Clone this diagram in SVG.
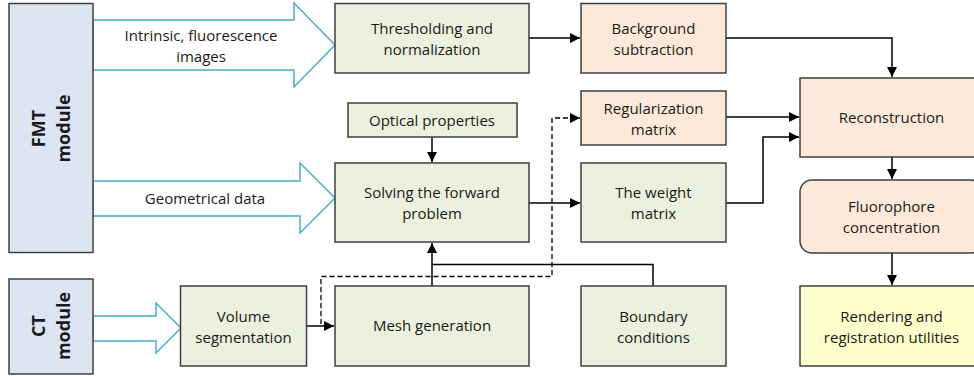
<svg xmlns="http://www.w3.org/2000/svg" width="974" height="376" viewBox="0 0 974 376">
<defs>
<style>
.g{fill:#EBF1DE;stroke:#3f3f3f;stroke-width:1.5}
.o{fill:#FDE9D9;stroke:#3f3f3f;stroke-width:1.5}
.b{fill:#DCE6F2;stroke:#3f3f3f;stroke-width:1.5}
.y{fill:#FFFFCC;stroke:#3f3f3f;stroke-width:1.5}
.ba{fill:#ffffff;stroke:#4BACC6;stroke-width:1.5}
.t{font-family:"Open Sans","Liberation Sans",sans-serif;font-size:15px;fill:#1a1a1a;text-anchor:middle}
.m{font-family:"Open Sans","Liberation Sans",sans-serif;font-size:18px;font-weight:bold;fill:#1a1a1a;text-anchor:middle}
.c{fill:none;stroke:#000;stroke-width:1.5}
.d{fill:none;stroke:#000;stroke-width:1.3;stroke-dasharray:5,3}
</style>
<marker id="ah" markerWidth="10" markerHeight="10" refX="10" refY="5" orient="auto" markerUnits="userSpaceOnUse">
<path d="M0,0 L10,5 L0,10 z" fill="#000"/>
</marker>
</defs>
<rect width="974" height="376" fill="#fff"/>

<g id="arrow-intrinsic">
<polygon class="ba" points="93,20 294,20 294,3 335,45 294,87 294,70 93,70"/>
<text class="t" x="201" y="40.5">Intrinsic, fluorescence</text>
<text class="t" x="201" y="61.5">images</text>
</g>
<g id="arrow-geometrical">
<polygon class="ba" points="93,181 300,181 300,163 335,198 300,233 300,216 93,216"/>
<text class="t" x="205" y="204">Geometrical data</text>
</g>
<g id="arrow-ct">
<polygon class="ba" points="93,316 156,316 156,303 181,328 156,353 156,341 93,341"/>
</g>

<g id="fmt-module">
<rect class="b" x="9" y="3.5" width="84" height="249"/>
<g transform="translate(51,128.5) rotate(-90)">
<text class="m" x="0" y="-6">FMT</text>
<text class="m" x="0" y="19">module</text>
</g>
</g>
<g id="ct-module">
<rect class="b" x="9" y="279" width="84" height="95"/>
<g transform="translate(51,326) rotate(-90)">
<text class="m" x="0" y="-6">CT</text>
<text class="m" x="0" y="19">module</text>
</g>
</g>

<g id="connectors">
<path class="c" d="M529,38 H580" marker-end="url(#ah)"/>
<path class="c" d="M726,38 H892 V77" marker-end="url(#ah)"/>
<path class="c" d="M726,117 H799" marker-end="url(#ah)"/>
<path class="c" d="M726,203 H763 V137 H799" marker-end="url(#ah)"/>
<path class="c" d="M892,157 V179" marker-end="url(#ah)"/>
<path class="c" d="M892,253 V285" marker-end="url(#ah)"/>
<path class="c" d="M432,137 V162" marker-end="url(#ah)"/>
<path class="c" d="M529,203 H580" marker-end="url(#ah)"/>
<path class="c" d="M307,326 H334" marker-end="url(#ah)"/>
<path class="c" d="M432,286 V243" marker-end="url(#ah)"/>
<path class="c" d="M653,286 V264.5 H432"/>
<path class="d" d="M321,324 V276.5 H552 V118 H580" marker-end="url(#ah)"/>
</g>

<g id="thresholding">
<rect class="g" x="335" y="3.5" width="194" height="69.5"/>
<text class="t" x="432" y="34">Thresholding and</text>
<text class="t" x="432" y="55">normalization</text>
</g>
<g id="background">
<rect class="o" x="581" y="3.5" width="145" height="69.5"/>
<text class="t" x="653.5" y="34">Background</text>
<text class="t" x="653.5" y="55">subtraction</text>
</g>
<g id="optical">
<rect class="g" x="348" y="103" width="169" height="34"/>
<text class="t" x="432" y="125.5">Optical properties</text>
</g>
<g id="solving">
<rect class="g" x="335" y="163" width="194" height="79"/>
<text class="t" x="432" y="198">Solving the forward</text>
<text class="t" x="432" y="219">problem</text>
</g>
<g id="regularization">
<rect class="o" x="581" y="91" width="145" height="54"/>
<text class="t" x="653.5" y="113.5">Regularization</text>
<text class="t" x="653.5" y="134.5">matrix</text>
</g>
<g id="weight">
<rect class="g" x="581" y="163" width="145" height="79"/>
<text class="t" x="653.5" y="198">The weight</text>
<text class="t" x="653.5" y="219">matrix</text>
</g>
<g id="volume">
<rect class="g" x="180.5" y="286" width="126" height="80"/>
<text class="t" x="243.5" y="321.5">Volume</text>
<text class="t" x="243.5" y="342.5">segmentation</text>
</g>
<g id="mesh">
<rect class="g" x="335" y="286" width="194" height="80"/>
<text class="t" x="432" y="331">Mesh generation</text>
</g>
<g id="boundary">
<rect class="g" x="581" y="286" width="145" height="80"/>
<text class="t" x="653.5" y="321.5">Boundary</text>
<text class="t" x="653.5" y="342.5">conditions</text>
</g>
<g id="reconstruction">
<rect class="o" x="800" y="78" width="183" height="79"/>
<text class="t" x="891.5" y="123">Reconstruction</text>
</g>
<g id="fluorophore">
<rect class="o" x="800" y="180" width="183" height="73" rx="12" ry="12"/>
<text class="t" x="891.5" y="212">Fluorophore</text>
<text class="t" x="891.5" y="233">concentration</text>
</g>
<g id="rendering">
<rect class="y" x="800" y="286" width="183" height="80"/>
<text class="t" x="891.5" y="321.5">Rendering and</text>
<text class="t" x="891.5" y="342.5">registration utilities</text>
</g>
</svg>
